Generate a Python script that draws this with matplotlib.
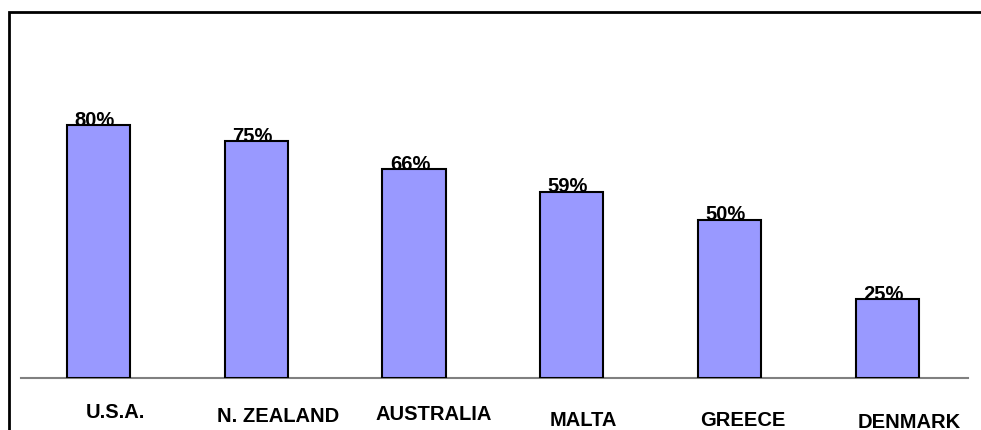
import matplotlib.pyplot as plt
from matplotlib.patches import Rectangle

# Share of respondents by country
countries = ["U.S.A.", "N. ZEALAND", "AUSTRALIA", "MALTA", "GREECE", "DENMARK"]
values = [80, 75, 66, 59, 50, 25]

# Category labels sit at uneven positions below the axis (pixels)
label_dx = [17, 22, 20, 11, 13, 22]
label_dy = [-34, -39, -37, -42, -42, -44]

fig = plt.figure(figsize=(9.81, 4.30), dpi=100)
ax = fig.add_axes([21 / 981, (430 - 378) / 430, 947 / 981, 316 / 430])

x = range(len(countries))
ax.bar(x, values, width=0.4, color="#9999FF", edgecolor="black", linewidth=1.5, zorder=3)

ax.set_xlim(-0.49, 5.51)
ax.set_ylim(0, 100)

for spine in ["top", "right", "left"]:
    ax.spines[spine].set_visible(False)
ax.spines["bottom"].set_color("#808080")
ax.spines["bottom"].set_linewidth(1.5)
ax.set_xticks([])
ax.set_yticks([])

for i, v in enumerate(values):
    ax.annotate(f"{v}%", xy=(i, v), xytext=(-4, 5), textcoords="offset pixels",
                ha="center", va="center", fontsize=14.5, fontweight="bold",
                family="Liberation Sans", zorder=4)

for i, name in enumerate(countries):
    ax.annotate(name, xy=(i, 0), xytext=(label_dx[i], label_dy[i]),
                textcoords="offset pixels", ha="center", va="center",
                fontsize=14.5, fontweight="bold", family="Liberation Sans",
                annotation_clip=False)

# Frame around the chart area, running off the right and bottom edges
fig.patches.append(Rectangle((8.5 / 981, -0.05), 1.1, (430 - 11.5) / 430 + 0.05,
                             transform=fig.transFigure, fill=False,
                             edgecolor="black", linewidth=2))

fig.savefig("out.png", dpi=100)
